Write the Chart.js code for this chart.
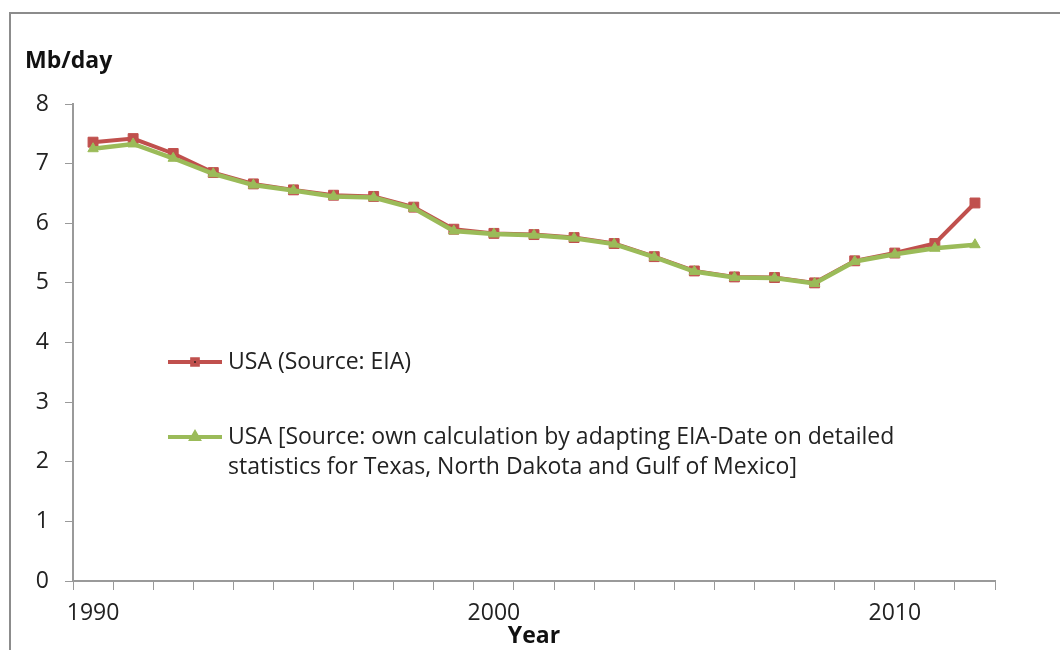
<!DOCTYPE html>
<html>
<head>
<meta charset="utf-8">
<script src="https://cdn.jsdelivr.net/npm/chart.js@4/dist/chart.umd.min.js"></script>
<style>
  body { margin: 0; background: #fff; }
</style>
</head>
<body>
<canvas id="prodChart" width="1060" height="650"></canvas>
<script>
// values
var years = ["1990", "1991", "1992", "1993", "1994", "1995", "1996", "1997", "1998", "1999",
  "2000", "2001", "2002", "2003", "2004", "2005", "2006", "2007", "2008", "2009",
  "2010", "2011", "2012"];
var usaEia = [7.36, 7.42, 7.17, 6.85, 6.66, 6.56, 6.47, 6.45, 6.27, 5.90,
  5.83, 5.81, 5.76, 5.66, 5.44, 5.20, 5.10, 5.09, 5.00, 5.37,
  5.50, 5.66, 6.34];
var usaOwn = [7.25, 7.33, 7.09, 6.83, 6.64, 6.55, 6.45, 6.43, 6.25, 5.87,
  5.82, 5.80, 5.75, 5.65, 5.43, 5.19, 5.09, 5.08, 4.99, 5.36,
  5.48, 5.58, 5.64];
var shownYears = ["1990", "2000", "2010"];
var yTicks = [0, 1, 2, 3, 4, 5, 6, 7, 8];
var eiaLabel = ["USA (Source: EIA)"];
var ownLabel = ["USA [Source: own calculation by adapting EIA-Date on detailed",
  "statistics for Texas, North Dakota and Gulf of Mexico]"];

var red = "#C0504D";
var green = "#9BBB59";
var axisGray = "#9a9a9a";
var textFont = "'Open Sans', Lato, sans-serif";

// frame, unit label and the in-plot legend
var decor = {
  id: "decor",
  beforeDraw: function(chart) {
    var ctx = chart.ctx;
    ctx.save();
    ctx.strokeStyle = "#8c8c8c";
    ctx.lineWidth = 2;
    ctx.beginPath();
    ctx.moveTo(10, 650);
    ctx.lineTo(10, 13);
    ctx.lineTo(1060, 13);
    ctx.stroke();
    ctx.restore();
  },
  afterDraw: function(chart) {
    var ctx = chart.ctx;
    ctx.save();
    ctx.fillStyle = "#111";
    ctx.font = "bold 23px " + textFont;
    ctx.textBaseline = "middle";
    ctx.textAlign = "left";
    ctx.fillText("Mb/day", 25, 61);

    var rows = [362, 437];
    var sets = [chart.data.datasets[1], chart.data.datasets[0]];
    sets.forEach(function(ds, i) {
      var y = rows[i];
      ctx.strokeStyle = ds.borderColor;
      ctx.lineWidth = 4;
      ctx.beginPath();
      ctx.moveTo(168, y);
      ctx.lineTo(222, y);
      ctx.stroke();
      Chart.helpers.drawPoint(ctx, {
        pointStyle: ds.pointStyle,
        radius: 4,
        borderWidth: 1
      }, 195, y);
      ctx.fillStyle = "#222";
      ctx.font = "23px " + textFont;
      ds.label.forEach(function(line, k) {
        ctx.fillText(line, 228, y + k * 30);
      });
    });
    ctx.restore();
  }
};

var ctx = document.getElementById("prodChart");
var chart = new Chart(ctx, {
  type: "line",
  data: {
    labels: years,
    datasets: [
      {
        label: ownLabel,
        data: usaOwn,
        borderColor: green,
        backgroundColor: green,
        borderWidth: 4.5,
        pointStyle: "triangle",
        pointRadius: 6,
        pointBorderWidth: 1,
        tension: 0,
        order: 0
      },
      {
        label: eiaLabel,
        data: usaEia,
        borderColor: red,
        backgroundColor: red,
        borderWidth: 4,
        pointStyle: "rect",
        pointRadius: 7,
        pointBorderWidth: 1,
        tension: 0,
        order: 1
      }
    ]
  },
  options: {
    responsive: false,
    animation: false,
    layout: { padding: { top: 104, right: 65, left: 0, bottom: 0 } },
    plugins: {
      legend: { display: false },
      tooltip: { enabled: false }
    },
    scales: {
      x: {
        offset: true,
        grid: {
          offset: true,
          drawOnChartArea: false,
          color: axisGray,
          tickLength: 9
        },
        border: { color: axisGray, width: 2 },
        ticks: {
          autoSkip: false,
          maxRotation: 0,
          padding: 10,
          color: "#222",
          font: { family: textFont, size: 23 },
          callback: function(value) {
            var lab = this.getLabelForValue(value);
            return shownYears.indexOf(lab) >= 0 ? lab : "";
          }
        },
        title: {
          display: true,
          text: "Year",
          color: "#111",
          font: { family: textFont, size: 23, weight: "bold" },
          padding: { top: 0, bottom: 0 }
        },
        afterFit: function(scale) { scale.height = 69; }
      },
      y: {
        min: 0,
        max: 8,
        afterBuildTicks: function(scale) {
          scale.ticks = yTicks.map(function(v) { return { value: v }; });
        },
        grid: {
          drawOnChartArea: false,
          color: axisGray,
          tickLength: 8
        },
        border: { color: axisGray, width: 2 },
        ticks: {
          padding: 16,
          color: "#222",
          font: { family: textFont, size: 23 }
        },
        afterFit: function(scale) { scale.width = 73; }
      }
    }
  },
  plugins: [decor]
});
</script>
</body>
</html>
